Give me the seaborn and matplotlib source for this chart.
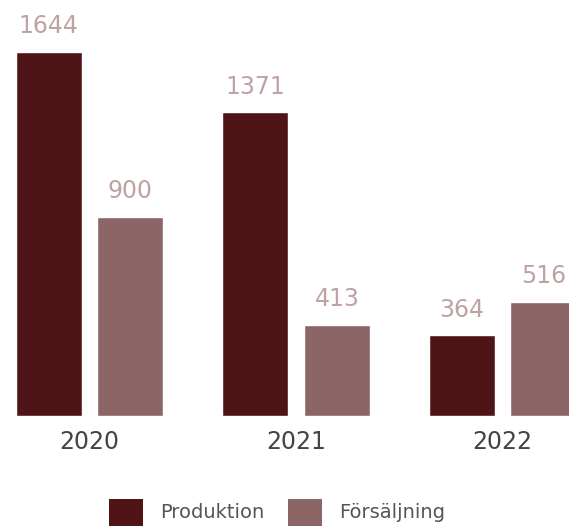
import matplotlib
matplotlib.use("Agg")
import matplotlib.pyplot as plt
import seaborn as sns
import pandas as pd
from matplotlib.patches import Patch

years = ["2020", "2021", "2022"]
series = ["Produktion", "Försäljning"]
produktion = [1644, 1371, 364]
forsaljning = [900, 413, 516]
colors = ["#4f1416", "#8c6666"]

df = pd.DataFrame({
    "year": years * 2,
    "series": [series[0]] * 3 + [series[1]] * 3,
    "value": produktion + forsaljning,
})

sns.set_theme(style="white")
plt.rcParams["font.family"] = ["DejaVu Sans"]

fig = plt.figure(figsize=(5.69, 5.29), dpi=100)
ax = fig.add_axes([0, (529 - 416) / 529, 1, 416 / 529])

sns.barplot(data=df, x="year", y="value", hue="series", palette=colors,
            width=0.794, gap=0.195, ax=ax, legend=False, saturation=1)

for cont in ax.containers:
    ax.bar_label(cont, padding=10, fontsize=17, color="#bfa2a3")

ax.set_xlim(-0.4334, 2.322)
ax.set_ylim(0, 1879)
ax.set_xlabel("")
ax.set_ylabel("")
ax.set_yticks([])
ax.tick_params(axis="x", length=0, pad=10, labelsize=17, labelcolor="#444444")
for s in ax.spines.values():
    s.set_visible(False)
ax.patch.set_alpha(0)

handles = [Patch(facecolor=c, edgecolor="none", label=l) for c, l in zip(colors, series)]
fig.legend(handles=handles, loc="lower center", bbox_to_anchor=(0.487, -0.012),
           ncol=2, frameon=False, fontsize=14, labelcolor="#555555",
           handlelength=1.75, handleheight=1.75, handletextpad=0.9,
           columnspacing=1.2, borderpad=0)

fig.savefig("out.png", dpi=100)
